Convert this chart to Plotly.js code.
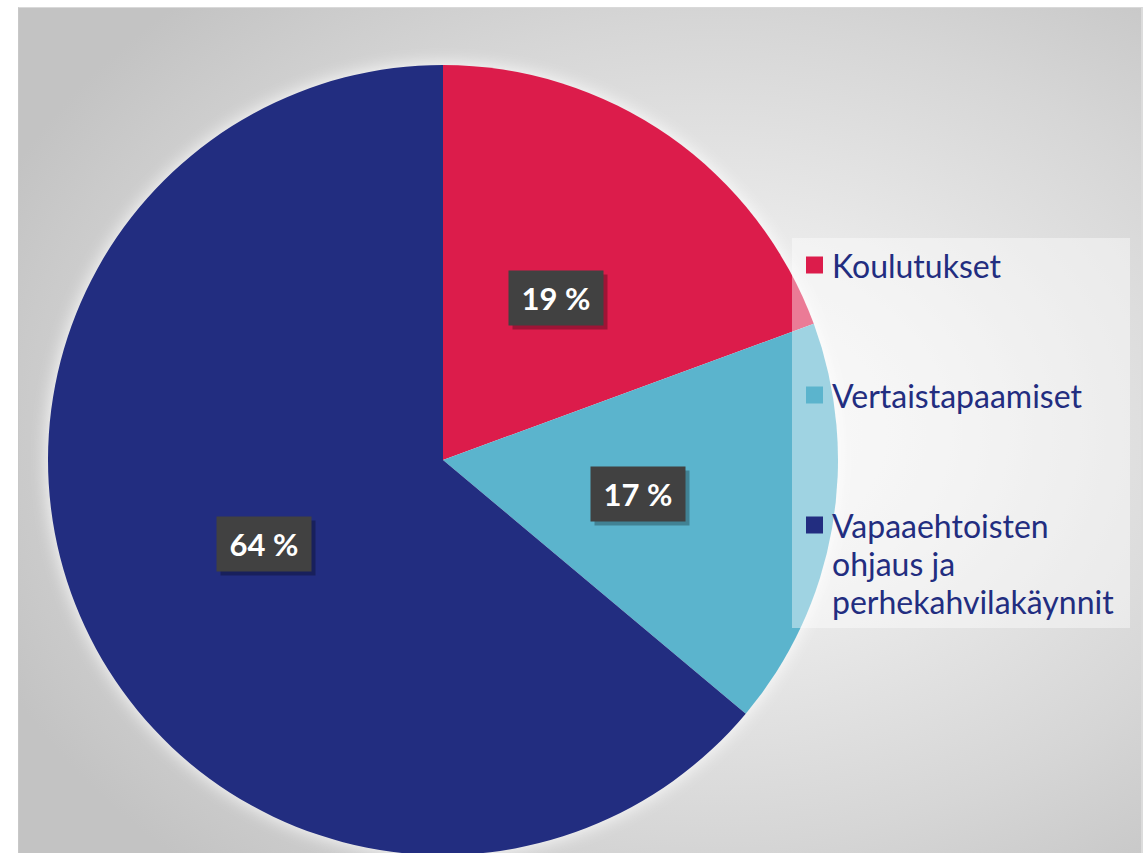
<!DOCTYPE html>
<html>
<head>
<meta charset="utf-8">
<script src="https://cdn.plot.ly/plotly-3.0.1.min.js"></script>
<style>
  html, body { margin: 0; padding: 0; background: #ffffff; overflow: hidden; width: 1146px; height: 853px; }
  #bg {
    position: absolute; left: 18px; top: 7px; width: 1122px; height: 900px;
    background: radial-gradient(ellipse 70% 65% at 62% 47%, #f7f7f7 0%, #ececec 30%, #d6d6d6 70%, #c3c3c3 100%);
    border-top: 1px solid #d9d9d9; border-right: 2px solid #dcdcdc; border-left: 1px solid #c8c8c8;
  }
  #chart { position: absolute; left: 0; top: 0; width: 1146px; height: 900px; }
  .pielayer { filter: drop-shadow(0 0 9px rgba(255,255,255,0.95)); }
</style>
</head>
<body>
<div id="bg"></div>
<div id="chart"></div>
<script>
const categories = ["Koulutukset", "Vertaistapaamiset", "Vapaaehtoisten<br>ohjaus ja<br>perhekahvilakäynnit"];
const shares = [19.4, 16.7, 63.9];
const colors = ["#DC1C4B", "#5BB4CD", "#222D80"];

const W = 1146, H = 900;
const domX = [48 / W, 838 / W];
const domY = [1 - 855 / H, 1 - 65 / H];

const cxPx = (domX[0] + domX[1]) / 2 * W;
const cyPx = (1 - (domY[0] + domY[1]) / 2) * H;
const rPx = Math.min((domX[1] - domX[0]) * W, (domY[1] - domY[0]) * H) / 2;

const total = shares.reduce((a, b) => a + b, 0);
const annotations = [];
let cum = 0;
shares.forEach((v, i) => {
  const mid = (cum + v / 2) / total * 2 * Math.PI;
  cum += v;
  const px = cxPx + 0.5 * rPx * Math.sin(mid);
  const py = cyPx - 0.5 * rPx * Math.cos(mid);
  const txt = Math.round(v / total * 100) + " %";
  annotations.push({
    x: px / W, y: 1 - py / H, xref: "paper", yref: "paper",
    xanchor: "center", yanchor: "middle",
    xshift: 4, yshift: -4, showarrow: false, text: " ",
    width: 92, height: 52, bgcolor: "rgba(0,0,0,0.28)", font: {size: 31}
  });
  annotations.push({
    x: px / W, y: 1 - py / H, xref: "paper", yref: "paper",
    xanchor: "center", yanchor: "middle",
    showarrow: false, text: "<b>" + txt + "</b>",
    width: 92, height: 52, bgcolor: "#414141",
    font: {family: "Lato, 'Open Sans', sans-serif", size: 31, color: "#ffffff"}
  });
});

// legend
const legendFirstLine = [265, 395, 525];
const lineGap = 38;
const shapes = [{
  type: "rect", xref: "paper", yref: "paper", layer: "above",
  x0: 792 / W, x1: 1130 / W, y0: 1 - 628 / H, y1: 1 - 238 / H,
  fillcolor: "rgba(255,255,255,0.42)", line: {width: 0}
}];
categories.forEach((c, i) => {
  const sqC = legendFirstLine[i];
  shapes.push({
    type: "rect", xref: "paper", yref: "paper", layer: "above",
    x0: 806 / W, x1: 823 / W, y0: 1 - (sqC + 8.5) / H, y1: 1 - (sqC - 8.5) / H,
    fillcolor: colors[i], line: {width: 0}
  });
  c.split("<br>").forEach((line, j) => {
    annotations.push({
      x: 830 / W, y: 1 - (legendFirstLine[i] + j * lineGap) / H, xref: "paper", yref: "paper",
      xanchor: "left", yanchor: "middle", align: "left", showarrow: false,
      text: line, font: {family: "Lato, sans-serif", size: 32, color: "#222D80"}
    });
  });
});

const data = [{
  type: "pie",
  labels: categories,
  values: shares,
  sort: false,
  direction: "clockwise",
  rotation: 0,
  marker: {colors: colors, line: {width: 0}},
  textinfo: "none",
  hoverinfo: "label+percent",
  domain: {x: domX, y: domY},
  showlegend: false
}];

const layout = {
  width: W, height: H,
  margin: {l: 0, r: 0, t: 0, b: 0},
  paper_bgcolor: "rgba(0,0,0,0)",
  plot_bgcolor: "rgba(0,0,0,0)",
  showlegend: false,
  annotations: annotations,
  shapes: shapes
};

Plotly.newPlot("chart", data, layout, {displayModeBar: false, staticPlot: true});
</script>
</body>
</html>
